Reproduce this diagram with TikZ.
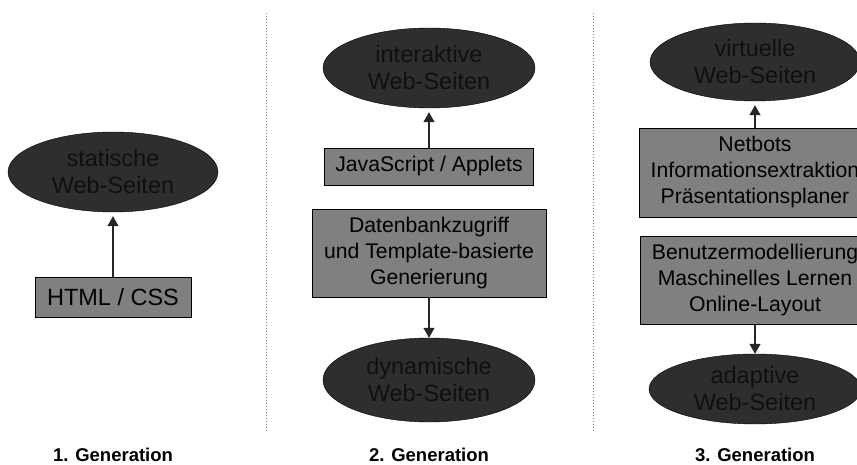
\documentclass[tikz,border=0pt]{standalone}
\usepackage{fontspec}
\setmainfont{Liberation Sans}
\usetikzlibrary{shapes.geometric,arrows.meta}
\definecolor{pagegray}{HTML}{2E2E2E}
\definecolor{techgray}{HTML}{808080}
\definecolor{pagetext}{HTML}{101010}
\begin{document}
\begin{tikzpicture}
[x=1pt,y=-1pt,
page/.style={ellipse,draw=black,fill=pagegray,text=pagetext,inner sep=0pt,align=center,font=\fontsize{23.5}{27}\selectfont},
tech/.style={rectangle,draw=black,fill=techgray,text=black,inner sep=0pt,align=center,font=\fontsize{21.2}{26}\selectfont},
gen/.style={font=\bfseries\fontsize{18.5}{22}\selectfont},
link/.style={-{Triangle[length=10pt,width=11pt]},line width=1.2pt,draw=black!85}]
\useasboundingbox (0,0) rectangle (857,465);

\node (stat) at (113,172) [page,minimum width=210pt,minimum height=80pt] {statische\\Web-Seiten};
\node (html) at (113,297) [tech,minimum width=156pt,minimum height=40pt,font=\fontsize{23.5}{27}\selectfont] {HTML / CSS};

\node (inter) at (429,68) [page,minimum width=212pt,minimum height=80pt] {interaktive\\Web-Seiten};
\node (js) at (429,166.5) [tech,minimum width=209pt,minimum height=37pt] {JavaScript / Applets};
\node (db) at (429,253) [tech,minimum width=234pt,minimum height=88pt] {Datenbankzugriff\\und Template-basierte\\Generierung};
\node (dyn) at (429,380) [page,minimum width=212pt,minimum height=84pt] {dynamische\\Web-Seiten};

\node (virt) at (755,62) [page,minimum width=210pt,minimum height=78pt] {virtuelle\\Web-Seiten};
\node (bots) at (755,172.5) [tech,minimum width=232pt,minimum height=89pt] {Netbots\\Informationsextraktion\\Präsentationsplaner};
\node (user) at (755,280) [tech,minimum width=230pt,minimum height=88pt] {Benutzermodellierung\\Maschinelles Lernen\\Online-Layout};
\node (adap) at (755,389) [page,minimum width=212pt,minimum height=70pt] {adaptive\\Web-Seiten};

\node (gen1) at (113,455) [gen] {1. Generation};
\node (gen2) at (429,455) [gen] {2. Generation};
\node (gen3) at (755,455) [gen] {3. Generation};

% separators
\draw [gray,dotted,line width=1pt] (266,13) -- (266,433);
\draw [gray,dotted,line width=1pt] (593,13) -- (593,433);

\foreach \from/\to in {html/stat, js/inter, bots/virt}
	\draw [link,shorten >=4pt] (\from) -- (\to);
\foreach \from/\to in {db/dyn, user/adap}
	\draw [link] (\from) -- (\to);

\end{tikzpicture}
\end{document}
